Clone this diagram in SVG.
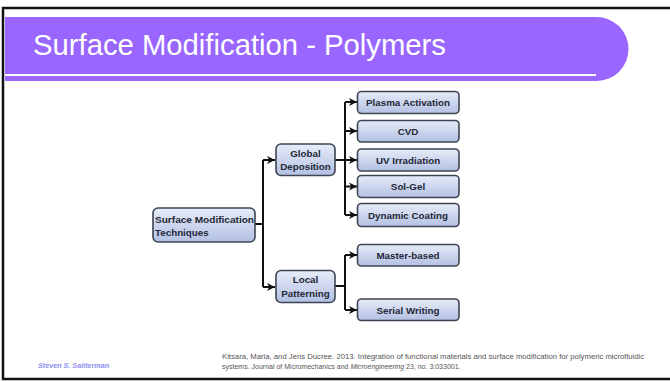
<svg xmlns="http://www.w3.org/2000/svg" width="670" height="382" viewBox="0 0 670 382">
<defs>
<linearGradient id="boxg" x1="0" y1="0" x2="0" y2="1">
<stop offset="0" stop-color="#e6ecf8"/>
<stop offset="1" stop-color="#b3c0e3"/>
</linearGradient>
<marker id="arr" markerUnits="userSpaceOnUse" markerWidth="9" markerHeight="9" refX="8" refY="4.5" orient="auto">
<path d="M0,0.5 L8,4.5 L0,8.5 L2.2,4.5 z" fill="#111"/>
</marker>
<style>
.box{fill:url(#boxg);stroke:#3e4452;stroke-width:1.6}
.lbl{font-family:"Liberation Sans",Arial,sans-serif;font-weight:bold;font-size:9.8px;fill:#232836;text-anchor:middle}
.con{fill:none;stroke:#111;stroke-width:2}
</style>
</defs>
<rect x="0" y="0" width="670" height="382" fill="#fff"/>
<rect x="3" y="8" width="700" height="371" fill="none" stroke="#111" stroke-width="2.5"/>
<g id="banner">
<path d="M5,17 H596.5 A32,32 0 0 1 596.5,81 H5 z" fill="#9966ff"/>
<rect x="5" y="74" width="591" height="2" fill="#fff"/>
<text x="33" y="54.5" font-family="'Liberation Sans',Arial,sans-serif" font-size="29" fill="#fff" textLength="413" lengthAdjust="spacingAndGlyphs">Surface Modification - Polymers</text>
</g>
<g id="connectors">
<path class="con" d="M255,224 H263 M263,160 V287"/>
<path class="con" d="M263,160 H275" marker-end="url(#arr)"/>
<path class="con" d="M263,287 H275" marker-end="url(#arr)"/>
<path class="con" d="M335,160 H345 M345,102 V215"/>
<path class="con" d="M345,102 H357" marker-end="url(#arr)"/>
<path class="con" d="M345,131 H357" marker-end="url(#arr)"/>
<path class="con" d="M345,160 H357" marker-end="url(#arr)"/>
<path class="con" d="M345,186.5 H357" marker-end="url(#arr)"/>
<path class="con" d="M345,215 H357" marker-end="url(#arr)"/>
<path class="con" d="M335,286 H345 M345,255 V310"/>
<path class="con" d="M345,255 H357" marker-end="url(#arr)"/>
<path class="con" d="M345,310 H357" marker-end="url(#arr)"/>
</g>
<g id="root">
<rect class="box" x="153" y="208" width="102" height="34" rx="5"/>
<text class="lbl" x="155" y="222.5" style="text-anchor:start" textLength="99" lengthAdjust="spacingAndGlyphs">Surface Modification</text>
<text class="lbl" x="155" y="236" style="text-anchor:start">Techniques</text>
</g>
<g id="global">
<rect class="box" x="276" y="144" width="59" height="31.5" rx="5"/>
<text class="lbl" x="305.5" y="156.5">Global</text>
<text class="lbl" x="305.5" y="169.5">Deposition</text>
</g>
<g id="local">
<rect class="box" x="276" y="270.5" width="59" height="32" rx="5"/>
<text class="lbl" x="305.5" y="283">Local</text>
<text class="lbl" x="305.5" y="297">Patterning</text>
</g>
<g id="plasma">
<rect class="box" x="357.5" y="91.5" width="101.5" height="22" rx="4"/>
<text class="lbl" x="408" y="106">Plasma Activation</text>
</g>
<g id="cvd">
<rect class="box" x="357.5" y="120.5" width="101.5" height="21.5" rx="4"/>
<text class="lbl" x="408" y="134.5">CVD</text>
</g>
<g id="uv">
<rect class="box" x="357.5" y="149" width="101.5" height="22" rx="4"/>
<text class="lbl" x="408" y="163.5">UV Irradiation</text>
</g>
<g id="solgel">
<rect class="box" x="357.5" y="175.5" width="101.5" height="22" rx="4"/>
<text class="lbl" x="408" y="190">Sol-Gel</text>
</g>
<g id="dynamic">
<rect class="box" x="357.5" y="203.5" width="101.5" height="23" rx="4"/>
<text class="lbl" x="408" y="218.5">Dynamic Coating</text>
</g>
<g id="master">
<rect class="box" x="357.5" y="244.5" width="101.5" height="21.5" rx="4"/>
<text class="lbl" x="408" y="258.5">Master-based</text>
</g>
<g id="serial">
<rect class="box" x="357.5" y="299" width="101.5" height="21.5" rx="4"/>
<text class="lbl" x="408" y="313.5">Serial Writing</text>
</g>
<g id="footer">
<text x="38" y="368" font-family="'Liberation Sans',Arial,sans-serif" font-size="7.2" font-style="italic" font-weight="bold" fill="#8f8ff2">Steven S. Saliterman</text>
<text x="222" y="359" font-family="'Liberation Sans',Arial,sans-serif" font-size="7" fill="#555" textLength="422" lengthAdjust="spacingAndGlyphs">Kitsara, Maria, and Jens Ducree. 2013. Integration of functional materials and surface modification for polymeric microfluidic</text>
<text x="222" y="368.5" font-family="'Liberation Sans',Arial,sans-serif" font-size="7" fill="#555">systems. Journal of Micromechanics and <tspan font-style="italic">Microengineering</tspan> 23, no. 3:033001.</text>
</g>
</svg>
